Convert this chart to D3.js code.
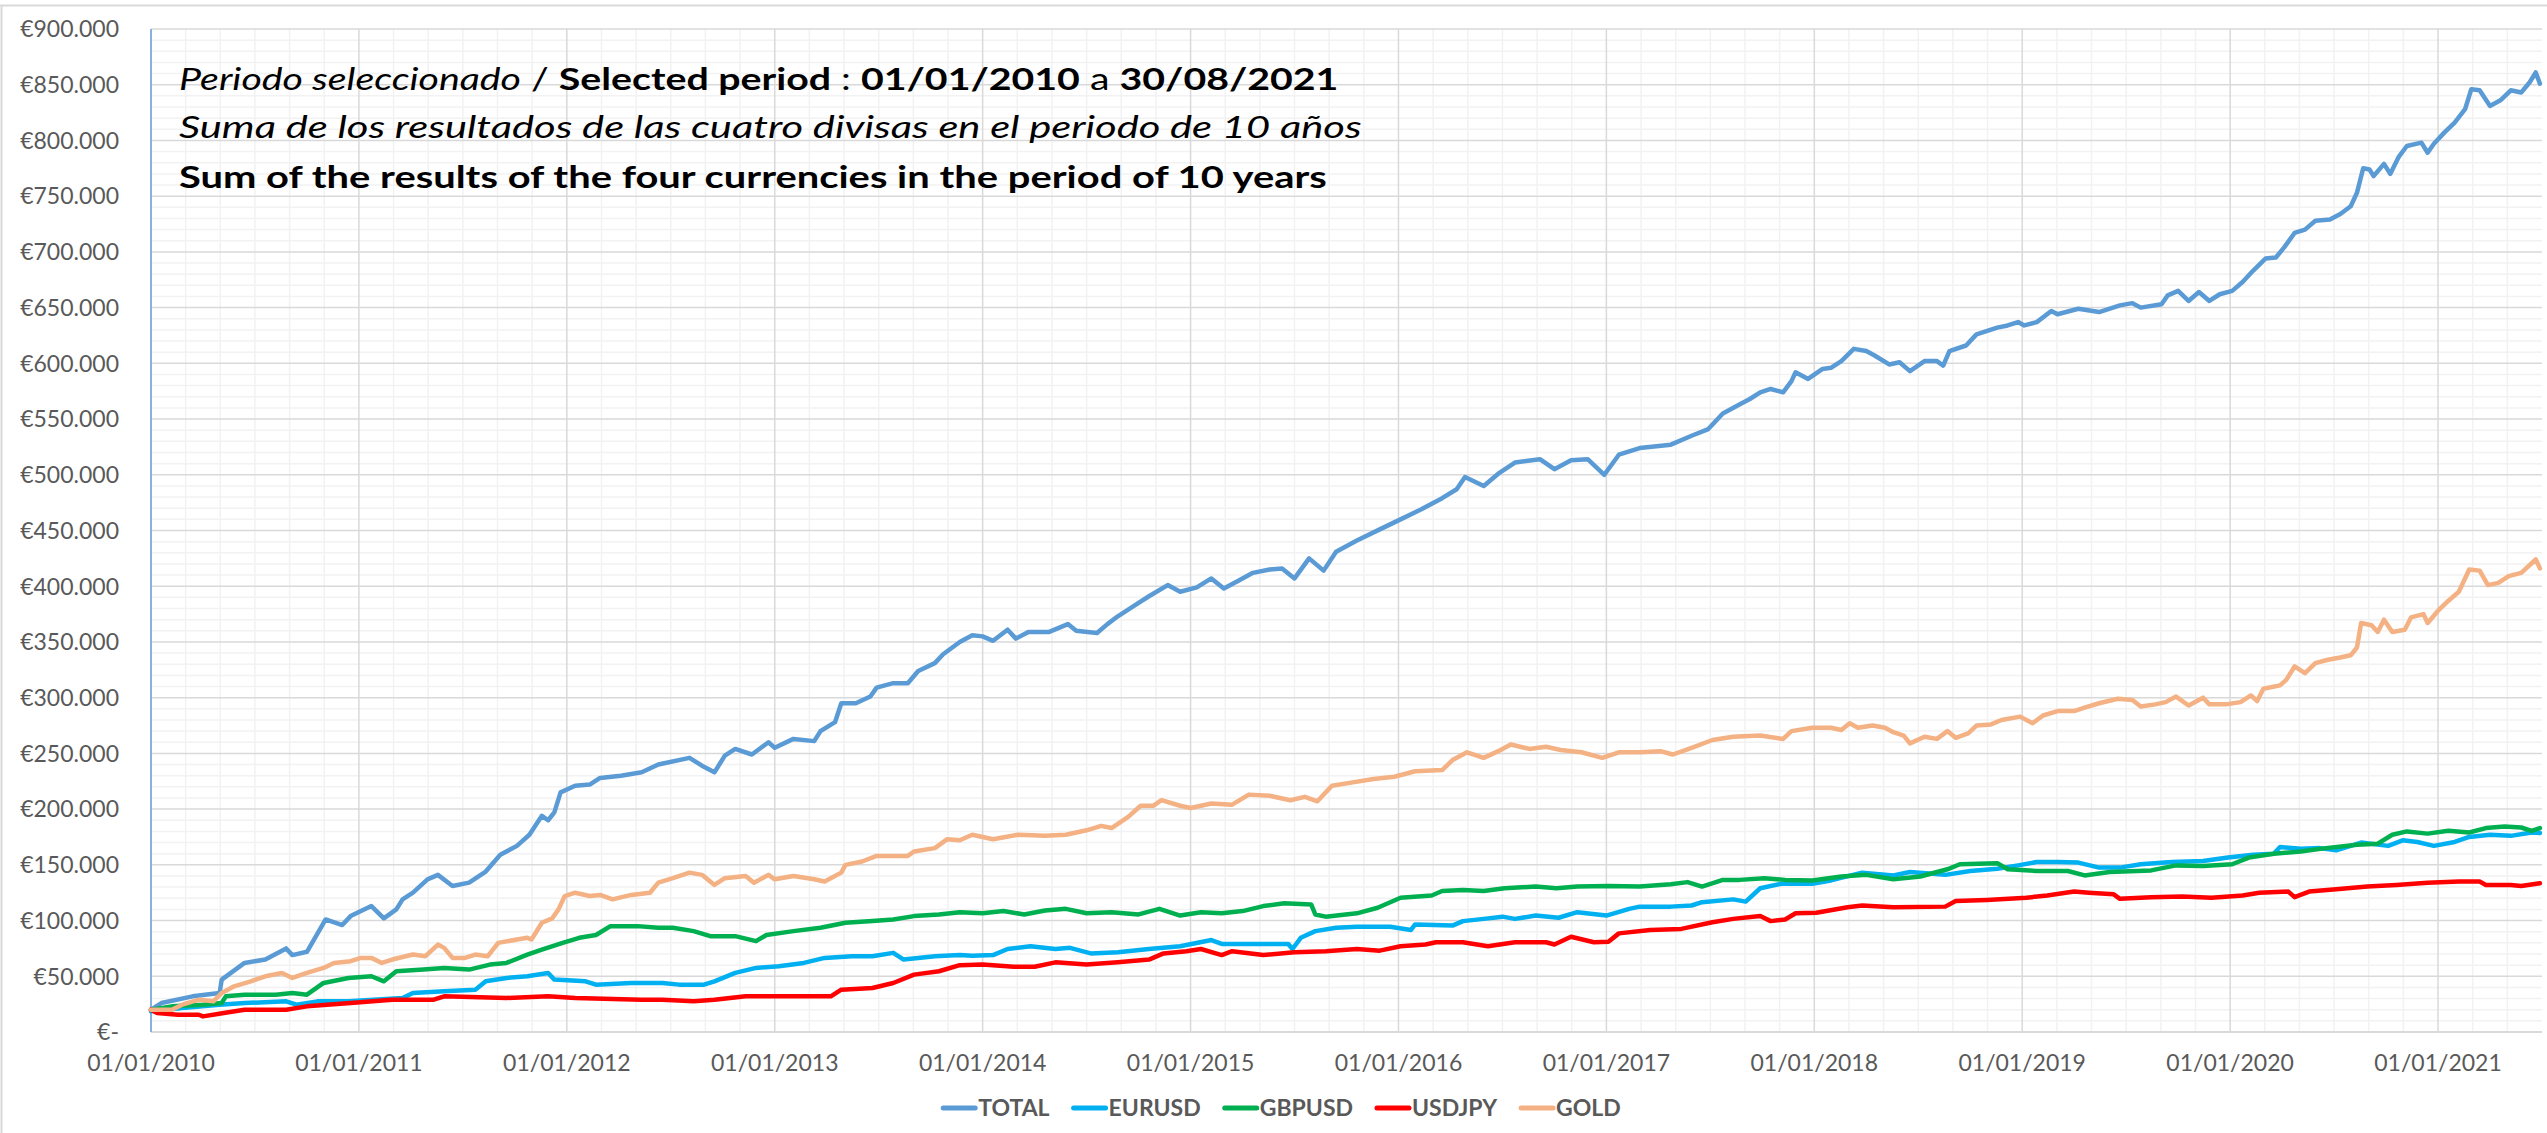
<!DOCTYPE html>
<html>
<head>
<meta charset="utf-8">
<script src="https://cdn.jsdelivr.net/npm/d3@7"></script>
<style>
    body { margin: 0; background: #fff; }
    text { font-family: Lato, "Open Sans", sans-serif; }
</style>
</head>
<body>
<script>
let width = 2547;
let height = 1133;

// values in thousands of euros, x = decimal year
const yearTicks = [2010, 2011, 2012, 2013, 2014, 2015, 2016, 2017, 2018, 2019, 2020, 2021];
const seriesNames = ["TOTAL", "EURUSD", "GBPUSD", "USDJPY", "GOLD"];
const seriesColors = ["#5b9bd5", "#00b0f0", "#00b050", "#ff0000", "#f4b183"];

const total = [[2010.00,20],[2010.05,26],[2010.20,32],[2010.33,35],[2010.34,47],[2010.45,62],[2010.55,65],[2010.65,75],[2010.68,69],[2010.75,72],[2010.84,101],[2010.92,96],[2010.96,104],[2011.06,113],[2011.12,102],[2011.18,110],[2011.21,119],[2011.26,125],[2011.33,137],[2011.38,141],[2011.45,131],[2011.53,134],[2011.61,144],[2011.68,159],[2011.76,167],[2011.82,177],[2011.88,194],[2011.91,190],[2011.94,197],[2011.97,215],[2012.04,221],[2012.11,222],[2012.16,228],[2012.26,230],[2012.36,233],[2012.44,240],[2012.59,246],[2012.65,239],[2012.71,233],[2012.76,248],[2012.81,254],[2012.89,249],[2012.97,260],[2013.00,255],[2013.09,263],[2013.19,261],[2013.22,270],[2013.29,278],[2013.32,295],[2013.39,295],[2013.46,301],[2013.49,309],[2013.57,313],[2013.64,313],[2013.69,324],[2013.77,331],[2013.81,339],[2013.89,350],[2013.95,356],[2014.00,355],[2014.05,351],[2014.12,361],[2014.16,353],[2014.22,359],[2014.32,359],[2014.41,366],[2014.45,360],[2014.55,358],[2014.60,366],[2014.65,373],[2014.75,385],[2014.80,391],[2014.89,401],[2014.95,395],[2015.03,399],[2015.10,407],[2015.16,398],[2015.23,405],[2015.30,412],[2015.38,415],[2015.44,416],[2015.50,407],[2015.57,425],[2015.64,414],[2015.70,431],[2015.80,441],[2015.91,451],[2016.01,460],[2016.11,469],[2016.21,479],[2016.28,487],[2016.32,498],[2016.41,490],[2016.48,501],[2016.56,511],[2016.68,514],[2016.75,505],[2016.83,513],[2016.91,514],[2016.99,500],[2017.06,518],[2017.16,524],[2017.31,527],[2017.41,535],[2017.49,541],[2017.56,555],[2017.64,563],[2017.69,568],[2017.74,574],[2017.79,577],[2017.85,574],[2017.89,584],[2017.91,592],[2017.97,586],[2018.04,595],[2018.08,596],[2018.13,602],[2018.19,613],[2018.25,611],[2018.29,607],[2018.36,599],[2018.41,601],[2018.46,593],[2018.53,602],[2018.59,602],[2018.62,598],[2018.65,611],[2018.73,616],[2018.78,626],[2018.88,632],[2018.93,634],[2018.98,637],[2019.01,634],[2019.07,637],[2019.14,647],[2019.17,644],[2019.27,649],[2019.37,646],[2019.47,652],[2019.53,654],[2019.57,650],[2019.67,653],[2019.70,661],[2019.75,665],[2019.80,656],[2019.85,664],[2019.90,656],[2019.95,662],[2020.01,665],[2020.06,673],[2020.11,683],[2020.17,694],[2020.22,695],[2020.26,704],[2020.31,717],[2020.36,720],[2020.41,728],[2020.48,729],[2020.53,734],[2020.58,741],[2020.61,753],[2020.64,775],[2020.67,774],[2020.69,768],[2020.74,779],[2020.77,770],[2020.81,785],[2020.85,795],[2020.92,798],[2020.95,789],[2020.98,797],[2021.03,807],[2021.08,816],[2021.13,828],[2021.16,846],[2021.20,845],[2021.25,831],[2021.30,836],[2021.35,845],[2021.40,843],[2021.44,852],[2021.47,861],[2021.49,851]];

const eurusd = [[2010.00,18.5],[2010.15,21.5],[2010.33,24.5],[2010.45,26],[2010.65,27.5],[2010.70,24.5],[2010.80,27.5],[2010.95,27.5],[2011.21,30.5],[2011.26,35],[2011.41,36.5],[2011.56,38],[2011.61,45.5],[2011.71,48.5],[2011.81,50],[2011.91,53],[2011.94,47],[2012.09,45.5],[2012.14,42.5],[2012.31,44],[2012.46,44],[2012.54,42.5],[2012.66,42.5],[2012.71,45.5],[2012.81,53],[2012.91,57.5],[2013.02,59],[2013.14,62],[2013.24,66.5],[2013.37,68],[2013.47,68],[2013.57,71],[2013.62,65],[2013.77,68],[2013.89,69],[2013.95,68.5],[2014.05,69],[2014.12,74.5],[2014.23,77],[2014.35,74.5],[2014.42,75.5],[2014.52,70.5],[2014.65,71.5],[2014.80,74.5],[2014.95,77],[2015.10,82.5],[2015.15,79],[2015.30,79],[2015.47,79],[2015.49,74.5],[2015.53,84.5],[2015.60,90.5],[2015.70,93.5],[2015.80,94.5],[2015.96,94.5],[2016.06,91.5],[2016.08,96.5],[2016.26,95.5],[2016.31,99.5],[2016.41,101.5],[2016.50,103.5],[2016.56,101.5],[2016.66,104.5],[2016.77,102.5],[2016.86,107.5],[2017.00,104.5],[2017.11,110.5],[2017.16,112.5],[2017.31,112.5],[2017.41,113.5],[2017.46,116.5],[2017.61,119],[2017.67,117],[2017.74,129],[2017.84,133],[2017.99,133],[2018.08,136],[2018.23,143],[2018.38,140.5],[2018.46,143.5],[2018.63,141],[2018.75,144.5],[2018.88,146.5],[2018.98,149.5],[2019.07,152.5],[2019.17,152.5],[2019.27,152],[2019.37,147.5],[2019.47,147.5],[2019.57,150.5],[2019.72,152.5],[2019.87,153.5],[2019.99,156.5],[2020.11,159],[2020.21,160],[2020.24,166],[2020.34,164.5],[2020.43,165],[2020.51,163],[2020.63,170],[2020.76,167],[2020.83,172],[2020.90,170.5],[2020.98,167],[2021.08,170.5],[2021.15,175],[2021.25,177],[2021.35,176],[2021.45,179],[2021.49,178.5]];

const gbpusd = [[2010.00,20],[2010.10,23],[2010.25,24.5],[2010.34,26],[2010.36,32],[2010.45,33.5],[2010.60,33.5],[2010.68,35],[2010.75,33.5],[2010.83,44],[2010.95,48.5],[2011.06,50],[2011.12,45.5],[2011.18,54.5],[2011.31,56],[2011.41,57.5],[2011.53,56],[2011.63,60.5],[2011.71,62],[2011.81,69.5],[2011.88,74],[2011.98,80],[2012.06,84.5],[2012.14,87],[2012.21,95],[2012.34,95],[2012.44,93.5],[2012.51,93.5],[2012.61,90.5],[2012.69,86],[2012.81,86],[2012.91,81.5],[2012.96,87],[2013.09,90.5],[2013.22,93.5],[2013.34,98],[2013.47,99.5],[2013.57,101],[2013.67,104],[2013.79,105.5],[2013.89,107.5],[2014.00,106.5],[2014.10,108.5],[2014.20,105.5],[2014.30,109],[2014.40,110.5],[2014.50,106.5],[2014.62,107.5],[2014.75,105.5],[2014.85,110.5],[2014.95,104.5],[2015.05,107.5],[2015.15,106.5],[2015.25,108.5],[2015.35,113],[2015.45,115.5],[2015.58,114.5],[2015.60,105.5],[2015.65,103.5],[2015.80,106.5],[2015.90,111.5],[2016.01,120.5],[2016.16,122.5],[2016.21,126.5],[2016.31,127.5],[2016.41,126.5],[2016.51,129],[2016.66,130.5],[2016.76,129],[2016.86,130.5],[2017.01,131],[2017.16,130.5],[2017.31,132.5],[2017.39,134.5],[2017.46,130.5],[2017.56,136.5],[2017.64,136.5],[2017.76,138],[2017.86,136.5],[2017.99,136],[2018.13,139.5],[2018.25,141],[2018.38,137],[2018.51,139.5],[2018.64,146],[2018.70,150.5],[2018.88,151.5],[2018.93,146],[2019.07,144.5],[2019.22,144.5],[2019.30,140.5],[2019.42,143.5],[2019.62,145],[2019.74,149.5],[2019.87,149],[2020.01,150.5],[2020.09,156.5],[2020.21,160],[2020.34,162],[2020.46,165],[2020.61,168],[2020.71,169],[2020.78,177],[2020.85,180],[2020.95,178],[2021.05,180.5],[2021.15,179],[2021.23,183],[2021.32,184.5],[2021.40,183.5],[2021.45,180.5],[2021.49,183]];

const usdjpy = [[2010.00,20],[2010.03,17],[2010.13,15.5],[2010.23,15.5],[2010.25,14],[2010.35,17],[2010.45,20],[2010.65,20],[2010.75,23],[2010.96,26],[2011.16,29],[2011.36,29],[2011.41,32],[2011.71,30.5],[2011.91,32],[2012.04,30.5],[2012.36,29],[2012.46,29],[2012.61,27.5],[2012.71,29],[2012.86,32],[2013.02,32],[2013.27,32],[2013.32,38],[2013.47,39.5],[2013.57,44],[2013.67,51.5],[2013.79,54.5],[2013.89,60],[2014.00,60.5],[2014.15,58.5],[2014.25,58.5],[2014.35,62.5],[2014.50,60.5],[2014.65,62.5],[2014.80,65],[2014.87,70.5],[2014.98,72.5],[2015.05,74.5],[2015.15,69],[2015.20,72.5],[2015.35,69],[2015.50,71.5],[2015.65,72.5],[2015.80,74.5],[2015.91,73],[2016.01,77],[2016.13,78.5],[2016.18,80.5],[2016.31,80.5],[2016.43,77],[2016.56,80.5],[2016.71,80.5],[2016.75,78.5],[2016.83,85.5],[2016.94,80.5],[2017.01,81],[2017.06,88.5],[2017.21,91.5],[2017.36,92.5],[2017.51,98.5],[2017.61,101.5],[2017.74,104],[2017.79,99.5],[2017.86,101],[2017.91,106.5],[2018.01,107],[2018.16,112],[2018.23,113.5],[2018.38,112],[2018.63,112.5],[2018.68,117.5],[2018.83,118.5],[2019.02,120.5],[2019.12,122.5],[2019.25,126],[2019.32,125],[2019.44,123.5],[2019.47,119.5],[2019.62,121],[2019.77,121.5],[2019.91,120.5],[2020.06,122.5],[2020.14,125],[2020.28,126],[2020.31,121],[2020.38,126],[2020.51,128],[2020.66,130.5],[2020.80,132],[2020.95,134],[2021.10,135],[2021.20,135],[2021.23,132],[2021.35,132],[2021.40,131],[2021.49,133.5]];

const gold = [[2010.00,20],[2010.10,20],[2010.15,24.5],[2010.23,29],[2010.30,27.5],[2010.34,35],[2010.40,41],[2010.48,45.5],[2010.55,50],[2010.63,53],[2010.68,48.5],[2010.75,53],[2010.83,57.5],[2010.88,62],[2010.96,63.5],[2011.01,66.5],[2011.06,66.5],[2011.11,62],[2011.16,65],[2011.26,69.5],[2011.32,68],[2011.38,78.5],[2011.41,75.5],[2011.45,66.5],[2011.51,66.5],[2011.56,69.5],[2011.62,68],[2011.67,80],[2011.76,83],[2011.81,84.5],[2011.83,83],[2011.88,98],[2011.93,102],[2011.96,110],[2011.99,122],[2012.04,125],[2012.11,122],[2012.16,123],[2012.22,119],[2012.31,123],[2012.40,125],[2012.44,134],[2012.51,138],[2012.59,143],[2012.65,141],[2012.71,132],[2012.76,138],[2012.86,140],[2012.90,134],[2012.97,141],[2013.00,137],[2013.09,140],[2013.19,137],[2013.24,135],[2013.32,143],[2013.34,150],[2013.42,153],[2013.49,158],[2013.57,158],[2013.64,158],[2013.67,162],[2013.77,165],[2013.83,173],[2013.89,172],[2013.95,177],[2014.05,173],[2014.17,177],[2014.30,176],[2014.40,177],[2014.50,181],[2014.57,185],[2014.62,183],[2014.70,193],[2014.76,203],[2014.82,203],[2014.86,208],[2014.95,203],[2015.00,201],[2015.10,205],[2015.20,204],[2015.28,213],[2015.38,212],[2015.48,208],[2015.55,211],[2015.61,207],[2015.68,221],[2015.78,224],[2015.88,227],[2015.98,229],[2016.08,234],[2016.21,235],[2016.26,244],[2016.33,251],[2016.41,246],[2016.48,252],[2016.54,258],[2016.63,254],[2016.71,256],[2016.78,253],[2016.88,251],[2016.98,246],[2017.06,251],[2017.16,251],[2017.26,252],[2017.32,249],[2017.41,255],[2017.51,262],[2017.61,265],[2017.74,266],[2017.85,263],[2017.89,270],[2017.99,273],[2018.08,273],[2018.13,271],[2018.17,277],[2018.21,273],[2018.28,275],[2018.34,273],[2018.38,269],[2018.43,266],[2018.46,259],[2018.53,265],[2018.59,263],[2018.64,270],[2018.68,264],[2018.74,268],[2018.78,275],[2018.85,276],[2018.90,280],[2018.99,283],[2019.05,277],[2019.10,284],[2019.17,288],[2019.25,288],[2019.30,291],[2019.37,295],[2019.46,299],[2019.53,298],[2019.57,292],[2019.64,294],[2019.69,296],[2019.74,301],[2019.80,293],[2019.87,300],[2019.90,294],[2019.98,294],[2020.05,296],[2020.10,302],[2020.13,297],[2020.16,308],[2020.24,311],[2020.27,316],[2020.31,328],[2020.36,322],[2020.41,331],[2020.47,334],[2020.53,336],[2020.58,338],[2020.61,345],[2020.63,367],[2020.68,365],[2020.71,359],[2020.74,370],[2020.78,359],[2020.84,361],[2020.87,372],[2020.93,375],[2020.95,367],[2021.00,378],[2021.05,387],[2021.10,395],[2021.15,415],[2021.20,414],[2021.24,401],[2021.29,403],[2021.34,409],[2021.40,412],[2021.47,424],[2021.49,416]];

const seriesData = [total, eurusd, gbpusd, usdjpy, gold];

const titleLine1 = [
    ["Periodo seleccionado", "italic", "normal"],
    [" / ", "normal", "normal"],
    ["Selected period", "normal", "bold"],
    [" : ", "normal", "normal"],
    ["01/01/2010", "normal", "bold"],
    [" a ", "normal", "normal"],
    ["30/08/2021", "normal", "bold"]
];
const titleLine2 = "Suma de los resultados de las cuatro divisas en el periodo de 10 años";
const titleLine3 = "Sum of the results of the four currencies in the period of 10 years";

let svg = d3.select("body")
    .append("svg")
    .attr("width", width)
    .attr("height", height);

let x = d3.scaleLinear().domain([2010, 2021.5]).range([151, 2542]);
let y = d3.scaleLinear().domain([0, 900000]).range([1032, 29]);

let euro = d3.formatLocale({decimal: ",", thousands: ".", grouping: [3], currency: ["€", ""]});
let fmt = euro.format("$,.0f");

// chart frame
svg.append("line").attr("x1", 1.5).attr("x2", 1.5).attr("y1", 5).attr("y2", height)
    .attr("stroke", "#d9d9d9").attr("stroke-width", 2);
svg.append("line").attr("x1", 0).attr("x2", width).attr("y1", 5.5).attr("y2", 5.5)
    .attr("stroke", "#d9d9d9").attr("stroke-width", 2);

// gridlines
let grid = svg.append("g");
let minorY = d3.range(0, 900001, 10000).filter(v => v % 50000 !== 0);
let minorX = d3.range(2010, 2021.5, 1 / 6).filter(v => Math.abs(v - Math.round(v)) > 0.01);

grid.selectAll(".minor-y").data(minorY).enter().append("line")
    .attr("x1", x.range()[0]).attr("x2", x.range()[1])
    .attr("y1", d => y(d)).attr("y2", d => y(d))
    .attr("stroke", "#f2f2f2").attr("stroke-width", 1.5);

grid.selectAll(".minor-x").data(minorX).enter().append("line")
    .attr("x1", d => x(d)).attr("x2", d => x(d))
    .attr("y1", y(900000)).attr("y2", y(0))
    .attr("stroke", "#f2f2f2").attr("stroke-width", 1.5);

grid.selectAll(".major-y").data(d3.range(50000, 900001, 50000)).enter().append("line")
    .attr("x1", x.range()[0]).attr("x2", x.range()[1])
    .attr("y1", d => y(d)).attr("y2", d => y(d))
    .attr("stroke", "#d9d9d9").attr("stroke-width", 1.5);

grid.selectAll(".major-x").data(yearTicks).enter().append("line")
    .attr("x1", d => x(d)).attr("x2", d => x(d))
    .attr("y1", y(900000)).attr("y2", y(0))
    .attr("stroke", "#d9d9d9").attr("stroke-width", 1.5);

// axes lines
svg.append("line")
    .attr("x1", x.range()[0]).attr("x2", x.range()[1])
    .attr("y1", y(0)).attr("y2", y(0))
    .attr("stroke", "#d9d9d9").attr("stroke-width", 2);
svg.append("line")
    .attr("x1", x.range()[0]).attr("x2", x.range()[0])
    .attr("y1", y(900000)).attr("y2", y(0))
    .attr("stroke", "#86b1e0").attr("stroke-width", 2);

// y labels
svg.append("g").selectAll("text")
    .data(d3.range(0, 900001, 50000))
    .enter().append("text")
    .attr("x", 119)
    .attr("y", d => y(d))
    .attr("dy", "0.36em")
    .attr("text-anchor", "end")
    .attr("font-size", 23)
    .attr("fill", "#595959")
    .text(d => d === 0 ? "€-" : fmt(d));

// x labels
svg.append("g").selectAll("text")
    .data(yearTicks)
    .enter().append("text")
    .attr("x", d => x(d))
    .attr("y", 1071)
    .attr("text-anchor", "middle")
    .attr("font-size", 23)
    .attr("fill", "#595959")
    .text(d => "01/01/" + d);

// series
let line = d3.line()
    .x(d => x(d[0]))
    .y(d => y(d[1] * 1000));

svg.append("g").selectAll("path")
    .data(seriesData)
    .enter().append("path")
    .attr("d", line)
    .attr("fill", "none")
    .attr("stroke", (d, i) => seriesColors[i])
    .attr("stroke-width", 4.5)
    .attr("stroke-linejoin", "round")
    .attr("stroke-linecap", "round");

// title block
function fitText(sel, left, base, target) {
    let len = sel.node().getComputedTextLength();
    sel.attr("transform", `translate(${left},${base}) scale(${target / len},1)`);
}

let t1 = svg.append("text").attr("font-size", 31).attr("fill", "#000").style("white-space", "pre");
titleLine1.forEach(p => {
    t1.append("tspan").text(p[0]).attr("font-style", p[1]).attr("font-weight", p[2]);
});
fitText(t1, 179, 90, 1160);

let t2 = svg.append("text").attr("font-size", 31).attr("font-style", "italic").attr("fill", "#000")
    .text(titleLine2);
fitText(t2, 179, 138, 1183);

let t3 = svg.append("text").attr("font-size", 31).attr("font-weight", "bold").attr("fill", "#000")
    .text(titleLine3);
fitText(t3, 179, 188, 1148);

// legend
let legend = svg.append("g");
let items = legend.selectAll("g").data(seriesNames).enter().append("g");
items.append("line")
    .attr("x1", 0).attr("x2", 32)
    .attr("y1", 0).attr("y2", 0)
    .attr("stroke", (d, i) => seriesColors[i])
    .attr("stroke-width", 5)
    .attr("stroke-linecap", "round");
items.append("text")
    .attr("x", 35)
    .attr("dy", "0.36em")
    .attr("font-size", 23)
    .attr("font-weight", "bold")
    .attr("fill", "#595959")
    .text(d => d);

let offset = 0;
let offsets = [];
items.each(function() {
    offsets.push(offset);
    offset += 35 + d3.select(this).select("text").node().getComputedTextLength() + 24;
});
let legendW = offset - 24;
items.attr("transform", (d, i) => `translate(${offsets[i]},0)`);
legend.attr("transform", `translate(${1282 - legendW / 2},1108)`);
</script>
</body>
</html>
